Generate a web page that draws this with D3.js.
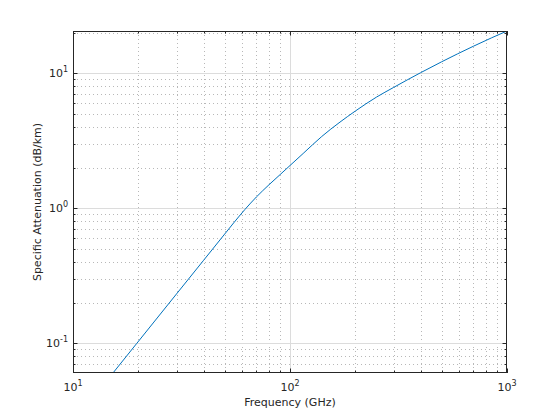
<!DOCTYPE html>
<html><head><meta charset="utf-8">
<script src="https://cdn.jsdelivr.net/npm/d3@7"></script>
<style>body{margin:0;background:#fff}svg{display:block}text{font-family:"DejaVu Sans",sans-serif}</style>
</head><body>
<script>
const freqGHz = [15, 19.7, 30, 40, 50, 55, 62, 70, 80, 90, 100, 115, 140, 170, 200, 250, 300, 400, 500, 700, 850, 1000];
const attenDBkm = [0.058, 0.1, 0.232, 0.412, 0.644, 0.779, 0.980, 1.212, 1.493, 1.775, 2.073, 2.546, 3.40, 4.35, 5.25, 6.65, 7.85, 10.1, 12.17, 15.86, 18.32, 20.57];
const xDomain = [10, 1000];
const yDomain = [0.0602, 20.57];
const xTickExps = [1, 2, 3];
const yTickExps = [-1, 0, 1];
const xLabel = "Frequency (GHz)";
const yLabel = "Specific Attenuation (dB/km)";

const W = 560, H = 420;
const m = {l: 73, r: 507, t: 31, b: 373};
const svg = d3.select("body").append("svg").attr("width", W).attr("height", H);
const x = d3.scaleLog().domain(xDomain).range([m.l, m.r]);
const y = d3.scaleLog().domain(yDomain).range([m.b, m.t]);

function minorTicks(dom) {
  const out = [];
  const lo = Math.floor(Math.log10(dom[0])), hi = Math.ceil(Math.log10(dom[1]));
  for (let e = lo; e <= hi; e++) for (let k = 2; k <= 9; k++) {
    const v = k * Math.pow(10, e);
    if (v > dom[0] && v < dom[1]) out.push(v);
  }
  return out;
}
const xMajor = xTickExps.map(e => Math.pow(10, e));
const yMajor = yTickExps.map(e => Math.pow(10, e));
const xMinor = minorTicks(xDomain), yMinor = minorTicks(yDomain);

const g = svg.append("g");
// minor grid
g.selectAll(".mgx").data(xMinor).enter().append("line")
  .attr("x1", d => Math.round(x(d)) + 0.5).attr("x2", d => Math.round(x(d)) + 0.5)
  .attr("y1", m.t).attr("y2", m.b)
  .attr("stroke", "#b8b8b8").attr("stroke-width", 1).attr("stroke-dasharray", "1,3");
g.selectAll(".mgy").data(yMinor).enter().append("line")
  .attr("y1", d => Math.round(y(d)) + 0.5).attr("y2", d => Math.round(y(d)) + 0.5)
  .attr("x1", m.l).attr("x2", m.r)
  .attr("stroke", "#b8b8b8").attr("stroke-width", 1).attr("stroke-dasharray", "1,3");
// major grid
g.selectAll(".Mgx").data(xMajor.filter(d => d > xDomain[0] && d < xDomain[1])).enter().append("line")
  .attr("x1", d => Math.round(x(d)) + 0.5).attr("x2", d => Math.round(x(d)) + 0.5)
  .attr("y1", m.t).attr("y2", m.b).attr("stroke", "#dcdcdc").attr("stroke-width", 1);
g.selectAll(".Mgy").data(yMajor).enter().append("line")
  .attr("y1", d => Math.round(y(d)) + 0.5).attr("y2", d => Math.round(y(d)) + 0.5)
  .attr("x1", m.l).attr("x2", m.r).attr("stroke", "#dcdcdc").attr("stroke-width", 1);

// data line
svg.append("clipPath").attr("id", "clip").append("rect")
  .attr("x", m.l).attr("y", m.t).attr("width", m.r - m.l).attr("height", m.b - m.t);
const line = d3.line().x((d, i) => x(freqGHz[i])).y(d => y(d)).curve(d3.curveMonotoneX);
svg.append("path").datum(attenDBkm).attr("d", line).attr("clip-path", "url(#clip)")
  .attr("fill", "none").attr("stroke", "#0072BD").attr("stroke-width", 1);

// ticks (inward, all sides)
const tk = svg.append("g").attr("stroke", "#262626").attr("stroke-width", 1);
const Lmaj = 4.5, Lmin = 2.5;
xMajor.concat(xMinor).forEach(d => {
  const L = xMajor.includes(d) ? Lmaj : Lmin, px = Math.round(x(d)) + 0.5;
  tk.append("line").attr("x1", px).attr("x2", px).attr("y1", m.b).attr("y2", m.b - L);
  tk.append("line").attr("x1", px).attr("x2", px).attr("y1", m.t).attr("y2", m.t + L);
});
yMajor.concat(yMinor).forEach(d => {
  const L = yMajor.includes(d) ? Lmaj : Lmin, py = Math.round(y(d)) + 0.5;
  tk.append("line").attr("y1", py).attr("y2", py).attr("x1", m.l).attr("x2", m.l + L);
  tk.append("line").attr("y1", py).attr("y2", py).attr("x1", m.r).attr("x2", m.r - L);
});
// box
svg.append("rect").attr("x", m.l + 0.5).attr("y", m.t + 0.5)
  .attr("width", m.r - m.l - 1).attr("height", m.b - m.t - 1)
  .attr("fill", "none").attr("stroke", "#262626").attr("stroke-width", 1);

// tick labels
const lab = svg.append("g").attr("fill", "#262626");
function sup(sel, e) {
  sel.append("tspan").text("10");
  sel.append("tspan").attr("dy", -5).attr("font-size", 8).text(String(e));
}
xTickExps.forEach(e => {
  const t = lab.append("text").attr("x", x(Math.pow(10, e))).attr("y", 391)
    .attr("text-anchor", "middle").attr("font-size", 11);
  sup(t, e);
});
yTickExps.forEach(e => {
  const t = lab.append("text").attr("x", 68).attr("y", y(Math.pow(10, e)) + 4)
    .attr("text-anchor", "end").attr("font-size", 11);
  sup(t, e);
});
lab.append("text").attr("x", (m.l + m.r) / 2).attr("y", 406).attr("text-anchor", "middle")
  .attr("font-size", 11).text(xLabel);
lab.append("text").attr("transform", `translate(41,${(m.t + m.b) / 2}) rotate(-90)`)
  .attr("text-anchor", "middle").attr("font-size", 11).text(yLabel);
</script>
</body></html>
